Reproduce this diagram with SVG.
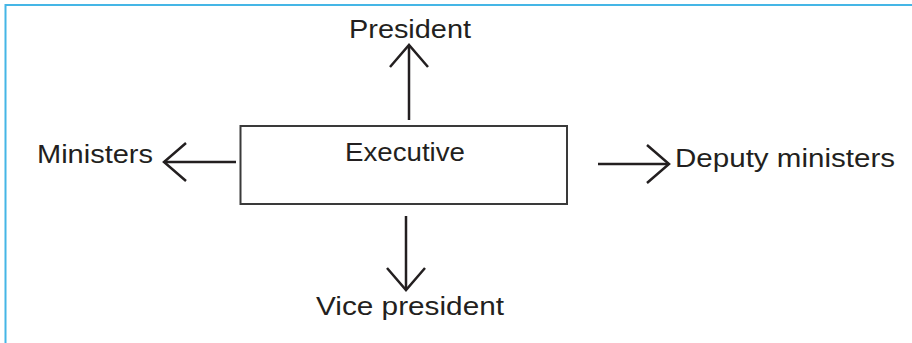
<svg xmlns="http://www.w3.org/2000/svg" width="912" height="343" viewBox="0 0 912 343">
  <style>
    .lbl { font-family: "Liberation Sans", Arial, sans-serif; font-size: 25px; fill: #231f20; }
    .conn { stroke: #231f20; stroke-width: 2.5; fill: none; }
    .box { fill: #ffffff; stroke: #3a3a3a; stroke-width: 2; }
  </style>
  <defs>
    <marker id="chev" markerUnits="userSpaceOnUse" viewBox="-25 -22 28 44" refX="0" refY="0" markerWidth="28" markerHeight="44" orient="auto" overflow="visible">
      <path d="M-22,-19 L0,0 L-22,19" fill="none" stroke="#231f20" stroke-width="2.5" stroke-linejoin="miter"/>
    </marker>
  </defs>
  <rect x="0" y="0" width="912" height="343" fill="#ffffff"/>
  <rect x="5.5" y="5" width="920" height="360" fill="none" stroke="#45b6e6" stroke-width="2"/>

  <g id="connectors">
    <path class="conn" d="M409,120 L409,45" marker-end="url(#chev)"/>
    <path class="conn" d="M236,162 L164,162" marker-end="url(#chev)"/>
    <path class="conn" d="M598,164 L669,164" marker-end="url(#chev)"/>
    <path class="conn" d="M406,216 L406,290" marker-end="url(#chev)"/>
  </g>

  <g id="executive">
    <rect class="box" x="240.5" y="126" width="326.5" height="78"/>
    <text class="lbl" x="345" y="161" textLength="120" lengthAdjust="spacingAndGlyphs">Executive</text>
  </g>
  <g id="president">
    <text class="lbl" x="349" y="38" textLength="122" lengthAdjust="spacingAndGlyphs">President</text>
  </g>
  <g id="ministers">
    <text class="lbl" x="37" y="163" textLength="116" lengthAdjust="spacingAndGlyphs">Ministers</text>
  </g>
  <g id="deputy-ministers">
    <text class="lbl" x="675" y="167" textLength="220" lengthAdjust="spacingAndGlyphs">Deputy ministers</text>
  </g>
  <g id="vice-president">
    <text class="lbl" x="316" y="315" textLength="188" lengthAdjust="spacingAndGlyphs">Vice president</text>
  </g>
</svg>
